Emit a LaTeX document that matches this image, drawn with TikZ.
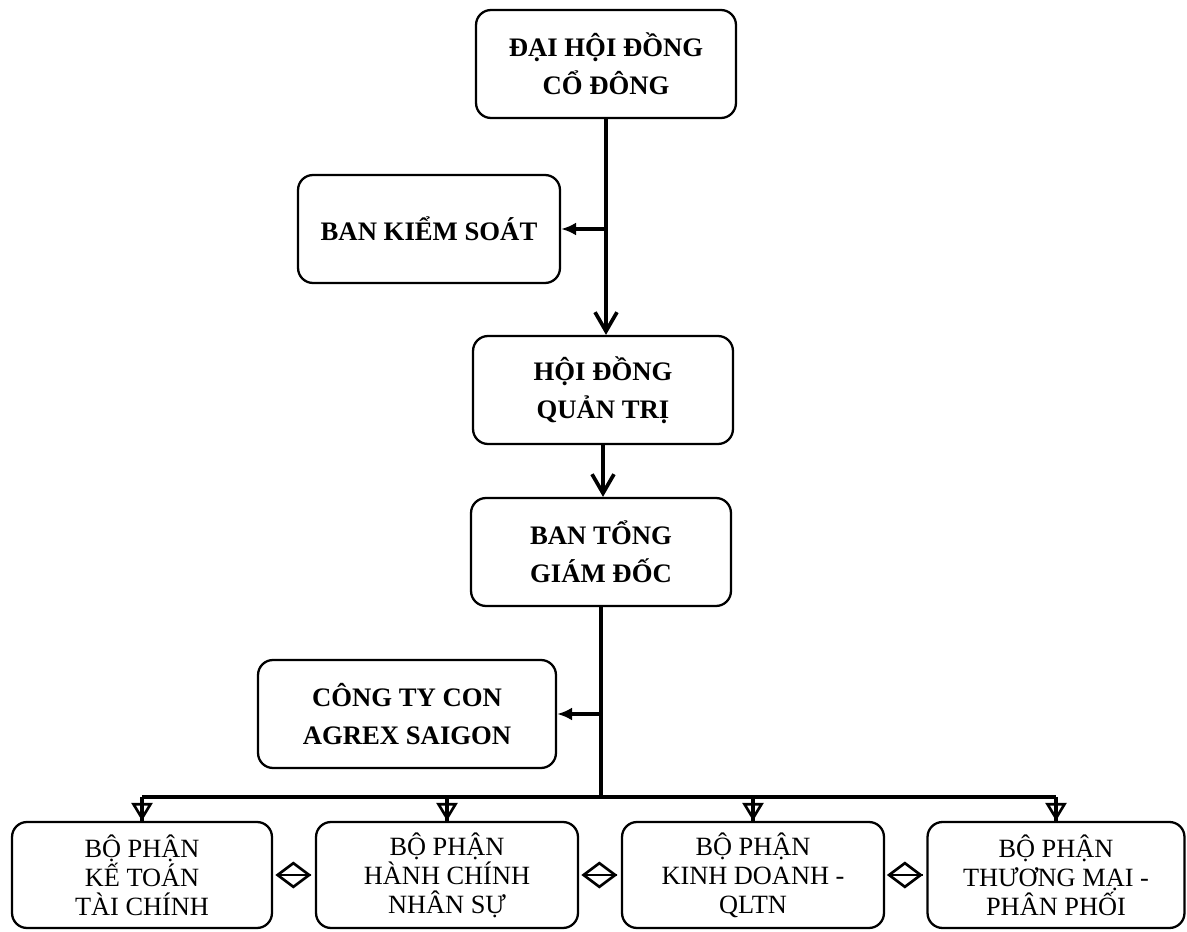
\documentclass[tikz,border=0pt]{standalone}
\usepackage{fontspec}
\setmainfont{Liberation Serif}
\usetikzlibrary{arrows.meta}

\begin{document}
\begin{tikzpicture}[x=0.02cm,y=-0.02cm,
		box/.style={draw,rounded corners=0.3cm,line width=1.3pt,align=center,minimum height=2.16cm,inner sep=2pt},
		head/.style={box,font=\fontsize{15.2}{21.5}\selectfont\bfseries,minimum width=5.2cm},
		dept/.style={box,font=\fontsize{15}{16.5}\selectfont,minimum width=5.2cm,minimum height=2.12cm},
		link/.style={line width=2.1pt},
		down/.style={link,-{Straight Barb[length=0.38cm,width=0.44cm]}},
		side/.style={link,-{Latex[length=0.3cm,width=0.26cm]}},
		fork/.style={link,-{Triangle[open,length=0.36cm,width=0.42cm,line width=1.5pt]},postaction={draw,arrows=-}},
		dia/.style={line width=1.5pt,shorten >=2pt,shorten <=2pt,-{Kite[open,length=0.72cm,width=0.54cm,inset=0.36cm]},postaction={draw,arrows=-}}]
	\useasboundingbox (0,0) rectangle (1187,932);
	\node[head] (dhdcd) at (606,64) {ĐẠI HỘI ĐỒNG\\CỔ ĐÔNG};
	\node[head,minimum width=5.24cm] (bks) at (429,229) {BAN KIỂM SOÁT};
	\node[head] (hdqt) at (603,390) {HỘI ĐỒNG\\QUẢN TRỊ};
	\node[head] (btgd) at (601,552) {BAN TỔNG\\GIÁM ĐỐC};
	\node[head,minimum width=5.96cm] (ctc) at (407,714) {CÔNG TY CON\\AGREX SAIGON};
	\node[dept] (kt) at (142,875) {BỘ PHẬN\\KẾ TOÁN\\TÀI CHÍNH};
	\node[dept,minimum width=5.24cm] (hc) at (447,875) {BỘ PHẬN\\HÀNH CHÍNH\\NHÂN SỰ};
	\node[dept,minimum width=5.24cm] (kd) at (753,875) {BỘ PHẬN\\KINH DOANH -\\QLTN};
	\node[dept,minimum width=5.14cm] (tm) at (1056,875) {BỘ PHẬN\\THƯƠNG MẠI -\\PHÂN PHỐI};
	\coordinate (bus) at (601,797);
	\draw[down] (dhdcd.south) -- (dhdcd.south |- hdqt.north);
	\draw[side] (dhdcd.south |- bks.east) -- (bks.east);
	\draw[down] (hdqt.south) -- (hdqt.south |- btgd.north);
	\draw[link] (btgd.south) -- (bus);
	\draw[side] (btgd.south |- ctc.east) -- (ctc.east);
	\draw[link] (kt.north |- bus) -- (tm.north |- bus);
	\foreach \n in {kt,hc,kd,tm}
		\draw[fork] (\n.north |- bus) -- (\n.north);
	\draw[dia] (kt.east) -- (hc.west);
	\draw[dia] (hc.east) -- (kd.west);
	\draw[dia] (kd.east) -- (tm.west);
\end{tikzpicture}
\end{document}
